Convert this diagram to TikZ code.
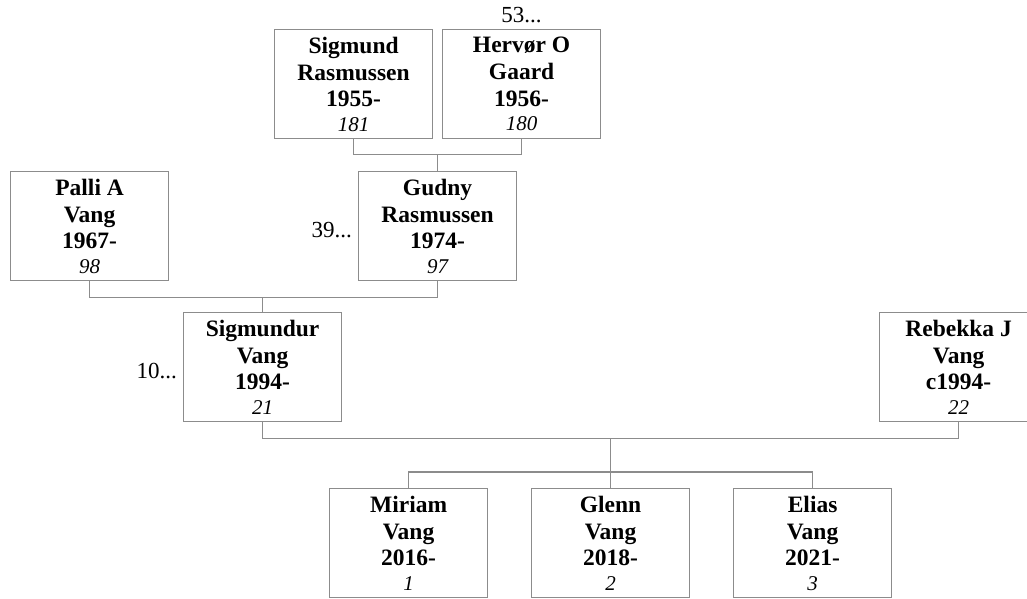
\documentclass[tikz,border=0pt]{standalone}
\usepackage{fontspec}
\setmainfont{Liberation Serif}
\definecolor{boxgray}{HTML}{8C8C8C}
\definecolor{linegray}{HTML}{8C8C8C}
\tikzset{
  x=1pt, y=-1pt,
  person/.style={draw=boxgray, line width=1.2pt, fill=white, minimum width=158pt, minimum height=109pt,
    anchor=north west, align=center, inner sep=0pt,
    font=\fontsize{23.5}{26.8}\selectfont\bfseries},
  conn/.style={draw=linegray, line width=1.2pt},
  more/.style={font=\fontsize{23}{26}\selectfont, inner sep=0pt}
}
\newcommand{\refno}[1]{{\mdseries\itshape\fontsize{21}{26.8}\selectfont #1}}
\newcommand{\pers}[4]{#1\\#2\\#3\\[-2.5pt]\refno{#4}}
\begin{document}
\begin{tikzpicture}
\useasboundingbox (0,0) rectangle (1027,599);
\clip (0,0) rectangle (1027,599);
\node[person] (sig) at (274,29) {\pers{Sigmund}{Rasmussen}{1955-}{181}};
\node[person] (her) at (442,29) {\pers{Herv\o r O}{Gaard}{1956-}{180}};
\node[person] (pal) at (10,171) {\pers{Palli A}{Vang}{1967-}{98}};
\node[person] (gud) at (358,171) {\pers{Gudny}{Rasmussen}{1974-}{97}};
\node[person] (sgr) at (183,312) {\pers{Sigmundur}{Vang}{1994-}{21}};
\node[person] (reb) at (879,312) {\pers{Rebekka J}{Vang}{c1994-}{22}};
\node[person] (mir) at (329,488) {\pers{Miriam}{Vang}{2016-}{1}};
\node[person] (gln) at (531,488) {\pers{Glenn}{Vang}{2018-}{2}};
\node[person] (eli) at (733,488) {\pers{Elias}{Vang}{2021-}{3}};

\node[more, anchor=base] (m53) at ([yshift=6pt]her.north) {53...};
\node[more, anchor=base east] (m39) at ([xshift=-6pt,yshift=-11pt]gud.west) {39...};
\node[more, anchor=base east] (m10) at ([xshift=-6pt,yshift=-11pt]sgr.west) {10...};

\draw[conn] (sig.south) -- ++(0,15) coordinate (a1) -| (her.south);
\draw[conn] (gud.north) -- (gud.north |- a1);
\draw[conn] (pal.south) -- ++(0,16) coordinate (a2) -| (gud.south);
\draw[conn] (sgr.north) -- (sgr.north |- a2);
\draw[conn] (sgr.south) -- ++(0,16) coordinate (a3) -| (reb.south);
\draw[conn] (gln.north) -- (gln.north |- a3);
\draw[conn] (mir.north) -- ++(0,-16) -| (eli.north);
\end{tikzpicture}
\end{document}
